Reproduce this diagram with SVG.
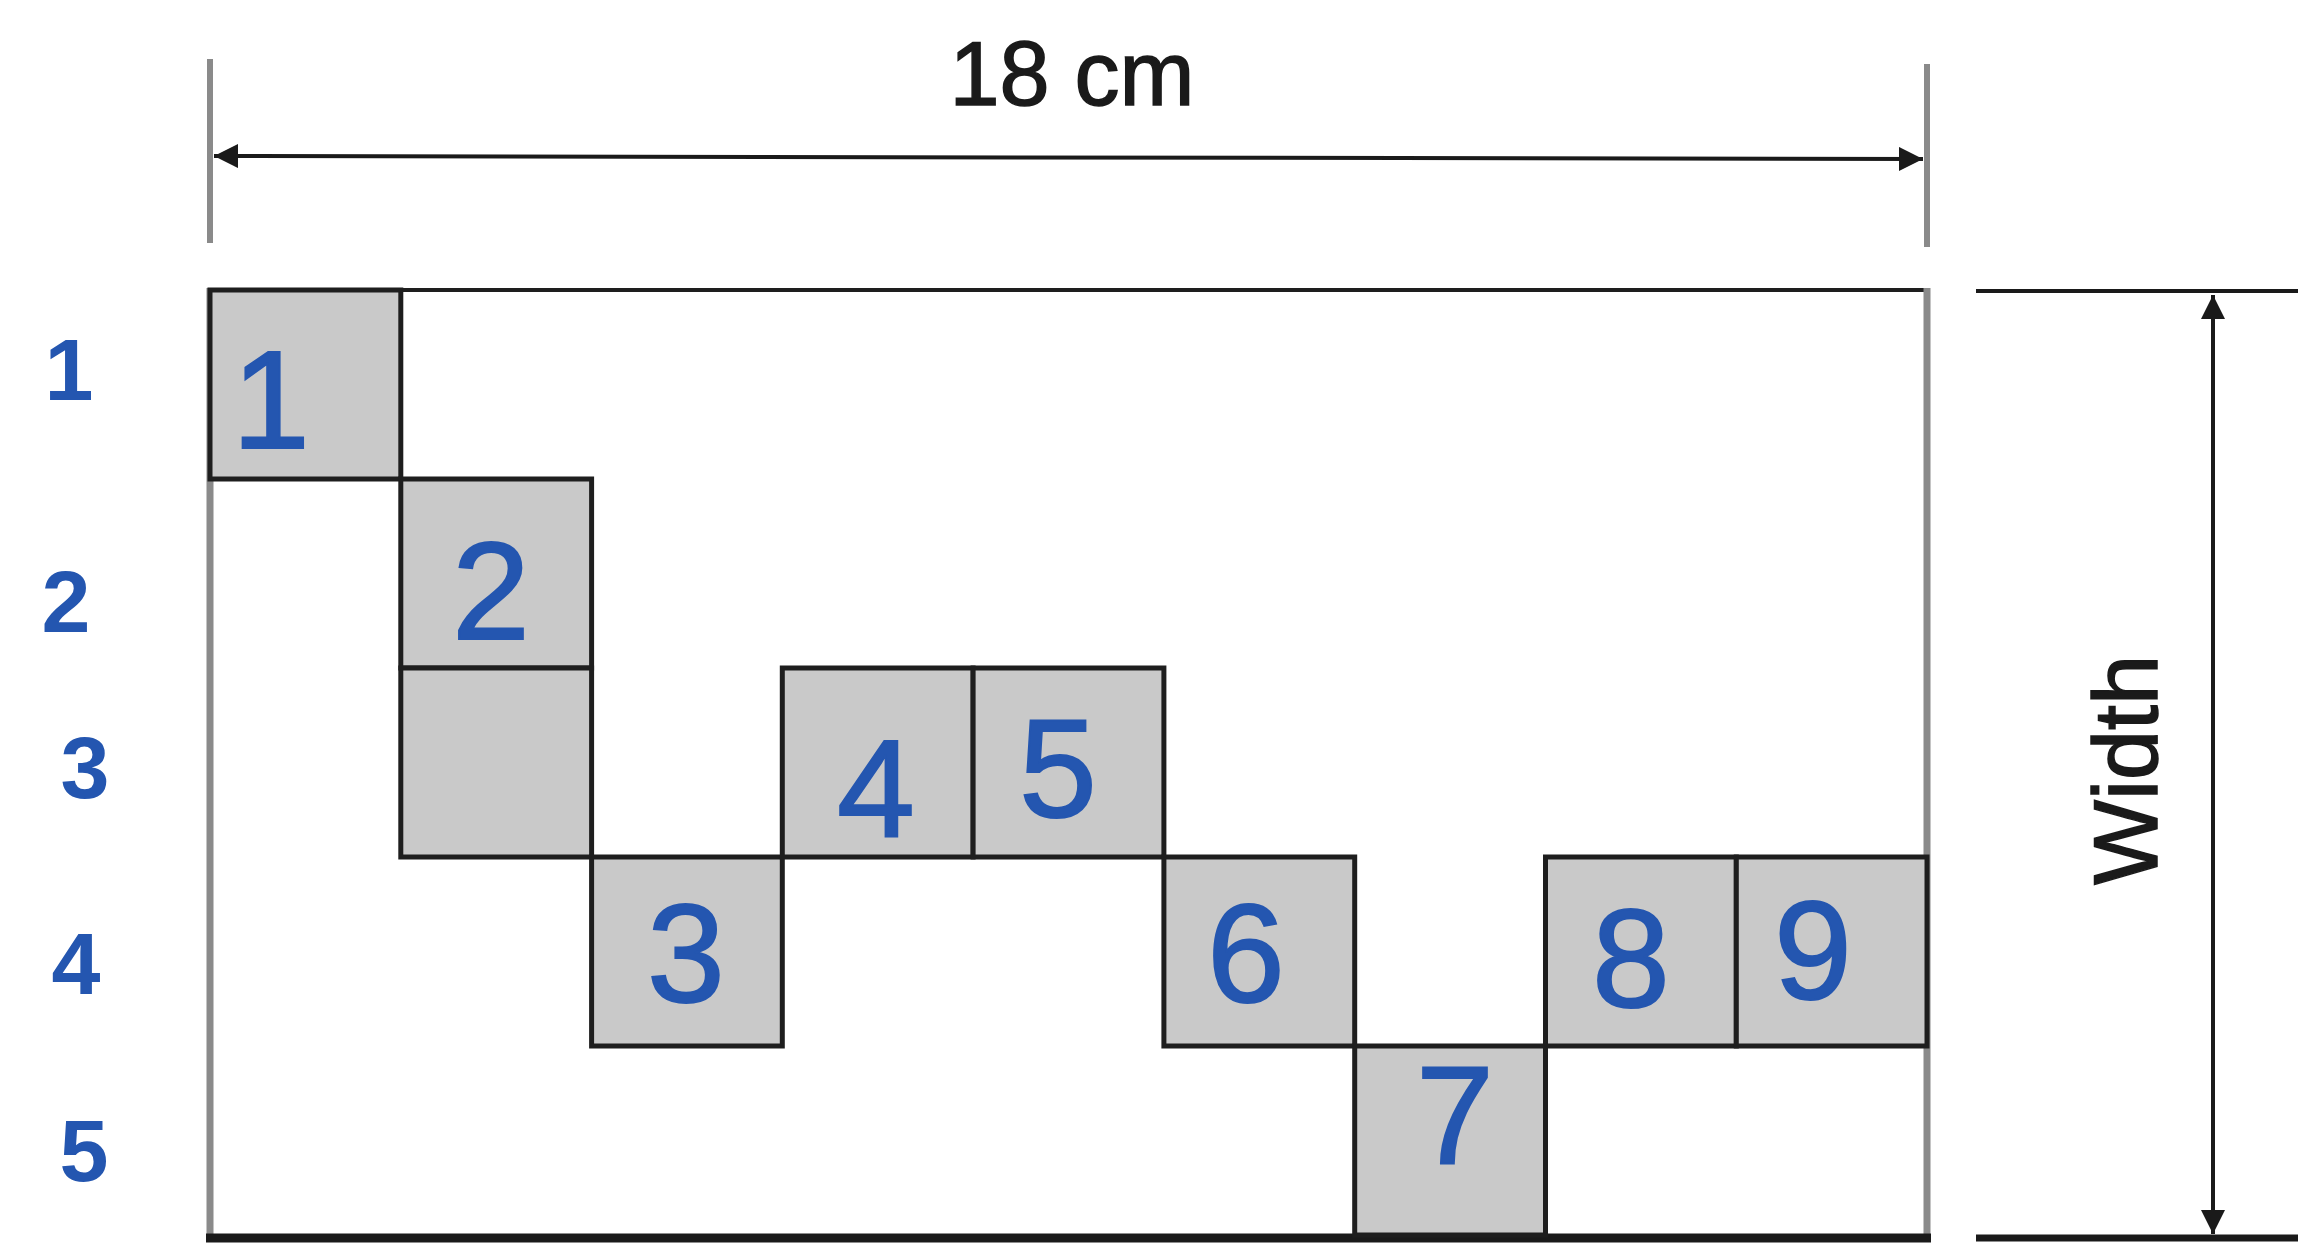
<svg xmlns="http://www.w3.org/2000/svg" width="2298" height="1244" viewBox="0 0 2298 1244">
<style>
.cell{fill:#c9c9c9;stroke:#1e1e1e;stroke-width:5}
.hand{font-family:"Liberation Sans","DejaVu Sans",sans-serif;fill:#2456b0;text-anchor:middle;dominant-baseline:central}
.big{font-size:140px;stroke:#2456b0;stroke-width:2}
.row{font-size:88px;font-weight:bold}
.lbl{font-family:"Liberation Sans",Arial,sans-serif;font-size:90px;fill:#1a1a1a;stroke:#1a1a1a;stroke-width:1.5}
.ext{stroke:#8a8a8a;stroke-width:6}
.dim{stroke:#1a1a1a;stroke-width:4;fill:none}
</style>
<defs>
<marker id="ah" viewBox="0 0 10 10" refX="10" refY="5" markerWidth="7" markerHeight="6" markerUnits="strokeWidth" orient="auto-start-reverse">
<path d="M0,0 L10,5 L0,10 Z" fill="#1a1a1a"/>
</marker>
</defs>
<rect width="2298" height="1244" fill="#ffffff"/>
<g id="board">
<rect x="210" y="290" width="1717" height="945" fill="#ffffff" stroke="none"/>
<line x1="210" y1="290" x2="1927" y2="290" stroke="#1e1e1e" stroke-width="4"/>
<line x1="210" y1="288" x2="210" y2="1240" stroke="#8a8a8a" stroke-width="7"/>
<line x1="1927" y1="288" x2="1927" y2="1240" stroke="#8a8a8a" stroke-width="7"/>
<line x1="206" y1="1238" x2="1931" y2="1238" stroke="#1a1a1a" stroke-width="9"/>
</g>
<g id="cell1"><rect class="cell" x="210" y="290" width="190.8" height="189"/><text class="hand big" x="271" y="399">1</text></g>
<g id="cell2"><rect class="cell" x="400.8" y="479" width="190.8" height="189"/><text class="hand big" x="491" y="590">2</text></g>
<g id="cell2b"><rect class="cell" x="400.8" y="668" width="190.8" height="189"/></g>
<g id="cell3"><rect class="cell" x="591.6" y="857" width="190.7" height="189"/><text class="hand big" x="686" y="953">3</text></g>
<g id="cell4"><rect class="cell" x="782.3" y="668" width="190.8" height="189"/><text class="hand big" x="876" y="788">4</text></g>
<g id="cell5"><rect class="cell" x="973.1" y="668" width="190.8" height="189"/><text class="hand big" x="1058" y="768">5</text></g>
<g id="cell6"><rect class="cell" x="1163.9" y="857" width="190.8" height="189"/><text class="hand big" x="1246" y="953">6</text></g>
<g id="cell7"><rect class="cell" x="1354.7" y="1046" width="190.8" height="189"/><text class="hand big" x="1455" y="1114">7</text></g>
<g id="cell8"><rect class="cell" x="1545.5" y="857" width="190.8" height="189"/><text class="hand big" x="1631" y="958">8</text></g>
<g id="cell9"><rect class="cell" x="1736.3" y="857" width="190.7" height="189"/><text class="hand big" x="1813" y="950">9</text></g>
<g id="row-labels">
<text class="hand row" x="69" y="369">1</text>
<text class="hand row" x="66" y="601">2</text>
<text class="hand row" x="85" y="767">3</text>
<text class="hand row" x="76" y="963">4</text>
<text class="hand row" x="84" y="1150">5</text>
</g>
<g id="connectors">
<line class="ext" x1="210" y1="59" x2="210" y2="243"/>
<line class="ext" x1="1927" y1="64" x2="1927" y2="247"/>
<line class="dim" x1="214" y1="156" x2="1923" y2="159" marker-start="url(#ah)" marker-end="url(#ah)"/>
<line x1="1976" y1="291" x2="2298" y2="291" stroke="#1a1a1a" stroke-width="4"/>
<line x1="1976" y1="1238" x2="2298" y2="1238" stroke="#1a1a1a" stroke-width="7"/>
<line class="dim" x1="2213" y1="295" x2="2213" y2="1234" marker-start="url(#ah)" marker-end="url(#ah)"/>
</g>
<g id="labels">
<text class="lbl" x="1072" y="105" text-anchor="middle">18 cm</text>
<text class="lbl" x="0" y="0" text-anchor="middle" transform="translate(2157,770) rotate(-90)">Width</text>
</g>
</svg>
